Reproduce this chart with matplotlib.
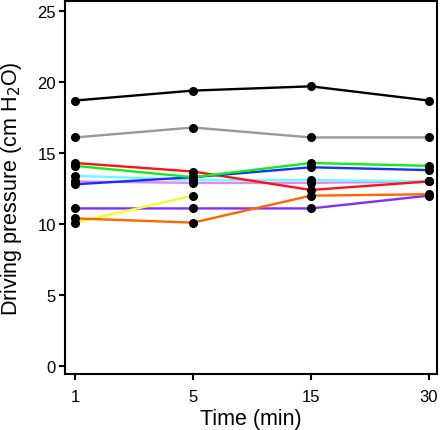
import numpy as np
import matplotlib
matplotlib.use("Agg")
import matplotlib.pyplot as plt

plt.rcParams['font.family'] = ['Liberation Sans', 'DejaVu Sans']

times = ['1', '5', '15', '30']

black = [18.7, 19.4, 19.7, 18.7]
gray = [16.1, 16.8, 16.1, 16.1]
red = [14.3, 13.7, 12.4, 13.0]
green = [14.1, 13.3, 14.3, 14.1]
blue = [12.8, 13.3, 14.0, 13.8]
cyan = [13.4, 13.1, 13.1, 13.0]
pink = [13.0, 12.9, 12.9, 13.0]
purple = [11.1, 11.1, 11.1, 12.0]
orange = [10.4, 10.1, 12.0, 12.1]
yellow = [10.1, 12.0, np.nan, np.nan]

series = [
    (pink, '#ee82ee'),
    (cyan, '#66ffff'),
    (purple, '#7f2fff'),
    (yellow, '#eeff22'),
    (orange, '#ff6600'),
    (red, '#ff1111'),
    (blue, '#1133ff'),
    (green, '#11ee11'),
    (gray, '#999999'),
    (black, '#000000'),
]

fig = plt.figure(figsize=(4.4, 4.31), dpi=100)
ax = fig.add_axes([0.148, 0.130, 0.845, 0.865])

x = np.arange(len(times))
for vals, c in series:
    ax.plot(x, vals, color=c, lw=1.7, zorder=2)
for vals, c in series:
    ax.plot(x, vals, 'o', color='black', ms=5.5, zorder=5)

ax.set_xticks(x)
ax.set_xticklabels(times)
ax.set_xlim(-0.085, 3.07)
ax.set_ylim(-0.56, 25.7)
ax.set_yticks([0, 5, 10, 15, 20, 25])

for s in ax.spines.values():
    s.set_linewidth(1.5)
ax.tick_params(direction='out', length=4.5, width=1.5, labelsize=12, pad=2)
ax.tick_params(axis='x', pad=6)

ax.set_xlabel('Time (min)', fontsize=15.5, labelpad=3)
ax.set_ylabel('Driving pressure (cm H$_2$O)', fontsize=15.5, labelpad=10)

fig.savefig('out.png', dpi=100)
